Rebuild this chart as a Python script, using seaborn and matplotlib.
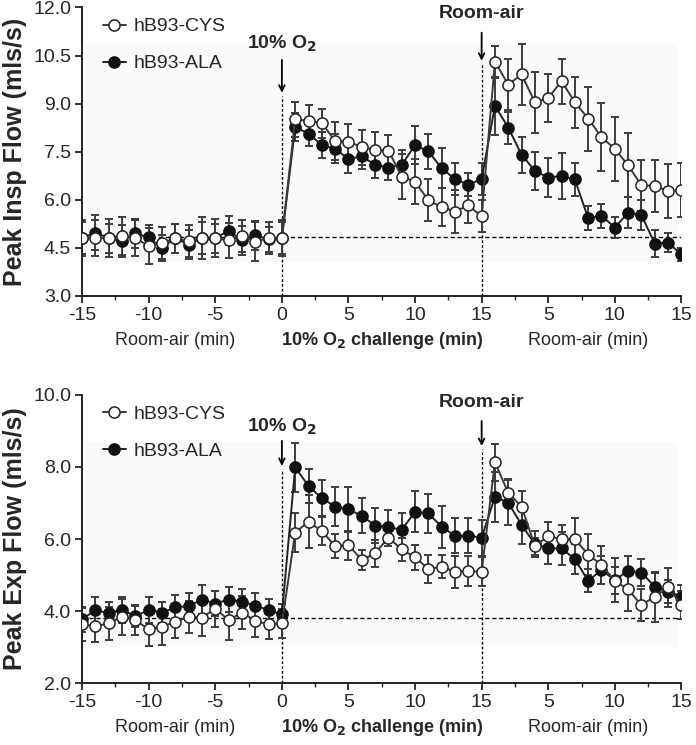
import numpy as np
import pandas as pd
import matplotlib
matplotlib.use("Agg")
import matplotlib.pyplot as plt
from matplotlib.patches import Rectangle
import seaborn as sns

# time axis: -15..0 room air, 1..15 hypoxia, 16..30 room air again
minutes = list(range(-15, 31))

# Peak inspiratory flow (mls/s)
insp_cys = [4.80, 4.80, 4.80, 4.87, 4.80, 4.55, 4.65, 4.80, 4.70, 4.80, 4.80, 4.73, 4.87, 4.69, 4.80, 4.80,
            8.51, 8.46, 8.39, 7.83, 7.81, 7.64, 7.56, 7.53, 6.72, 6.56, 5.98, 5.77, 5.63, 5.82, 5.48,
            10.31, 9.59, 9.91, 9.04, 9.17, 9.70, 9.04, 8.53, 7.95, 7.59, 7.07, 6.45, 6.43, 6.27, 6.30]
insp_cys_err = [0.55, 0.55, 0.60, 0.60, 0.55, 0.55, 0.50, 0.45, 0.50, 0.65, 0.60, 0.55, 0.50, 0.60, 0.50, 0.55,
                0.55, 0.50, 0.45, 0.60, 0.55, 0.55, 0.55, 0.50, 0.70, 0.70, 0.65, 0.60, 0.68, 0.55, 0.50,
                0.50, 0.80, 0.95, 0.95, 0.75, 0.70, 0.80, 1.00, 1.07, 1.00, 1.00, 0.80, 0.80, 0.83, 0.85]
insp_ala = [4.80, 4.97, 4.80, 4.71, 4.95, 4.82, 4.50, 4.80, 4.60, 4.80, 4.80, 5.03, 4.73, 4.89, 4.76, 4.80,
            8.27, 8.06, 7.70, 7.59, 7.27, 7.35, 7.09, 7.00, 7.09, 7.70, 7.51, 6.98, 6.64, 6.47, 6.64,
            8.93, 8.25, 7.40, 6.90, 6.69, 6.74, 6.63, 5.42, 5.50, 5.13, 5.59, 5.52, 4.63, 4.66, 4.29]
insp_ala_err = [0.50, 0.54, 0.45, 0.50, 0.45, 0.40, 0.40, 0.45, 0.45, 0.50, 0.45, 0.45, 0.45, 0.45, 0.40, 0.50,
                0.45, 0.40, 0.40, 0.45, 0.45, 0.40, 0.40, 0.40, 0.45, 0.60, 0.55, 0.63, 0.50, 0.35, 0.50,
                0.90, 0.50, 0.57, 0.60, 0.62, 0.72, 0.52, 0.37, 0.38, 0.33, 0.48, 0.48, 0.42, 0.30, 0.19]

# Peak expiratory flow (mls/s)
exp_cys = [3.63, 3.58, 3.66, 3.84, 3.75, 3.49, 3.57, 3.70, 3.84, 3.82, 4.07, 3.75, 3.96, 3.73, 3.63, 3.66,
           6.18, 6.48, 6.22, 5.80, 5.83, 5.42, 5.60, 6.04, 5.71, 5.49, 5.17, 5.23, 5.09, 5.11, 5.09,
           8.13, 7.28, 6.90, 5.80, 6.09, 5.99, 5.99, 5.57, 5.28, 4.84, 4.60, 4.17, 4.40, 4.66, 4.17]
exp_cys_err = [0.45, 0.45, 0.45, 0.50, 0.40, 0.45, 0.50, 0.45, 0.45, 0.50, 0.50, 0.55, 0.45, 0.45, 0.40, 0.40,
               0.55, 0.74, 0.40, 0.33, 0.40, 0.28, 0.37, 0.23, 0.33, 0.35, 0.39, 0.32, 0.44, 0.42, 0.40,
               0.52, 0.39, 0.43, 0.24, 0.39, 0.39, 0.58, 0.58, 0.53, 0.37, 0.60, 0.44, 0.69, 0.54, 0.39]
exp_ala = [3.77, 4.03, 3.94, 4.03, 3.86, 4.03, 3.96, 4.10, 4.14, 4.32, 4.21, 4.32, 4.26, 4.15, 4.03, 3.91,
           7.99, 7.47, 7.13, 6.90, 6.82, 6.65, 6.37, 6.34, 6.25, 6.76, 6.71, 6.34, 6.09, 6.09, 6.04,
           7.17, 7.01, 6.39, 5.86, 5.74, 5.74, 5.44, 4.84, 5.14, 4.86, 5.12, 5.07, 4.68, 4.54, 4.40]
exp_ala_err = [0.35, 0.35, 0.30, 0.35, 0.30, 0.35, 0.30, 0.35, 0.35, 0.40, 0.35, 0.35, 0.35, 0.35, 0.30, 0.30,
               0.68, 0.47, 0.50, 0.55, 0.62, 0.48, 0.48, 0.46, 0.48, 0.56, 0.55, 0.58, 0.48, 0.48, 0.50,
               0.70, 0.62, 0.53, 0.37, 0.44, 0.46, 0.42, 0.32, 0.40, 0.62, 0.42, 0.37, 0.39, 0.32, 0.32]

tick_pos = [-15, -10, -5, 0, 5, 10, 15, 20, 25, 30]
tick_labels = ['-15', '-10', '-5', '0', '5', '10', '15', '5', '10', '15']

sns.set_style("ticks")
plt.rcParams['font.family'] = ['Liberation Sans', 'DejaVu Sans']

fig = plt.figure(figsize=(6.96, 7.45), dpi=100)
ax1 = fig.add_axes([0.118, 0.603, 0.861, 0.387])
ax2 = fig.add_axes([0.118, 0.083, 0.861, 0.387])


def draw_panel(ax, cys, cys_err, ala, ala_err, ylim, yticks, ylabel, baseline,
               o2_txt_y, o2_arrow, air_txt_y, air_arrow, bg):
    df = pd.DataFrame({'min': minutes * 2,
                       'flow': cys + ala,
                       'group': ['hB93-CYS'] * len(minutes) + ['hB93-ALA'] * len(minutes)})
    # faint scan background
    ax.add_patch(Rectangle((-14.8, bg[0]), 44.5, bg[1] - bg[0], color='#fafafa', zorder=0, lw=0))
    ax.errorbar(minutes, cys, yerr=cys_err, fmt='none', ecolor='#3c3c3c', elinewidth=1.4,
                capsize=3, capthick=1.4, zorder=2)
    ax.errorbar(minutes, ala, yerr=ala_err, fmt='none', ecolor='#3c3c3c', elinewidth=1.4,
                capsize=3, capthick=1.4, zorder=2)
    sns.lineplot(data=df[df.group == 'hB93-CYS'], x='min', y='flow', ax=ax, color='#3a3a3a',
                 lw=1.4, marker='o', markersize=8, markerfacecolor='white',
                 markeredgecolor='#222222', markeredgewidth=1.1, label='hB93-CYS', zorder=4)
    sns.lineplot(data=df[df.group == 'hB93-ALA'], x='min', y='flow', ax=ax, color='#222222',
                 lw=1.4, marker='o', markersize=8, markerfacecolor='#111111',
                 markeredgecolor='#111111', markeredgewidth=1.1, label='hB93-ALA', zorder=3)

    ax.axhline(baseline, color='black', ls=(0, (3, 2)), lw=1.0, zorder=1)
    ax.plot([0, 0], [ylim[0], o2_arrow[1]], color='black', ls=(0, (2, 1.5)), lw=1.0, zorder=1)
    ax.plot([15, 15], [ylim[0], air_arrow[1]], color='black', ls=(0, (2, 1.5)), lw=1.0, zorder=1)
    ax.annotate('', xy=(0, o2_arrow[1]), xytext=(0, o2_arrow[0]),
                arrowprops=dict(arrowstyle='->', color='black', lw=1.3), annotation_clip=False)
    ax.annotate('', xy=(15, air_arrow[1]), xytext=(15, air_arrow[0]),
                arrowprops=dict(arrowstyle='->', color='black', lw=1.3), annotation_clip=False)
    ax.text(0, o2_txt_y, '10% O$_\\mathbf{2}$', ha='center', va='center', fontsize=14,
            fontweight='bold')
    ax.text(15, air_txt_y, 'Room-air', ha='center', va='center', fontsize=14,
            fontweight='bold', clip_on=False)

    ax.set_xlim(-15, 30)
    ax.set_ylim(*ylim)
    ax.set_yticks(yticks)
    ax.set_yticklabels([f'{v:.1f}' for v in yticks], fontsize=14)
    ax.set_xticks(tick_pos)
    ax.set_xticklabels(tick_labels, fontsize=14)
    ax.set_xticks(np.arange(-15, 31, 2.5), minor=True)
    ax.tick_params(axis='both', which='major', length=5, width=1.3, direction='out',
                   color='#222222', pad=3)
    ax.tick_params(axis='x', which='minor', length=3, width=1.0, color='#222222')
    for s in ['left', 'bottom']:
        ax.spines[s].set_linewidth(1.4)
        ax.spines[s].set_color('#222222')
    sns.despine(ax=ax)
    ax.set_xlabel('')
    ax.set_ylabel(ylabel, fontsize=18, fontweight='bold', labelpad=4)

    # x-axis segment labels
    ax.text(-8, -0.155, 'Room-air (min)', transform=ax.get_xaxis_transform(),
            ha='center', va='center', fontsize=13)
    ax.text(7.5, -0.155, '10% O$_\\mathbf{2}$ challenge (min)', transform=ax.get_xaxis_transform(),
            ha='center', va='center', fontsize=13, fontweight='bold')
    ax.text(23, -0.155, 'Room-air (min)', transform=ax.get_xaxis_transform(),
            ha='center', va='center', fontsize=13)

    ax.legend(loc='upper left', bbox_to_anchor=(0.005, 1.025), frameon=False, fontsize=14,
              handlelength=1.2, handletextpad=0.4, labelspacing=1.0)


draw_panel(ax1, insp_cys, insp_cys_err, insp_ala, insp_ala_err, (3.0, 12.0),
           [3.0, 4.5, 6.0, 7.5, 9.0, 10.5, 12.0], 'Peak Insp Flow (mls/s)', 4.82,
           10.85, (10.45, 9.25), 11.8, (11.3, 10.25), (4.05, 10.9))
draw_panel(ax2, exp_cys, exp_cys_err, exp_ala, exp_ala_err, (2.0, 10.0),
           [2.0, 4.0, 6.0, 8.0, 10.0], 'Peak Exp Flow (mls/s)', 3.82,
           9.1, (8.8, 7.95), 9.8, (9.35, 8.5), (3.0, 8.7))

fig.savefig('out.png', dpi=100)
